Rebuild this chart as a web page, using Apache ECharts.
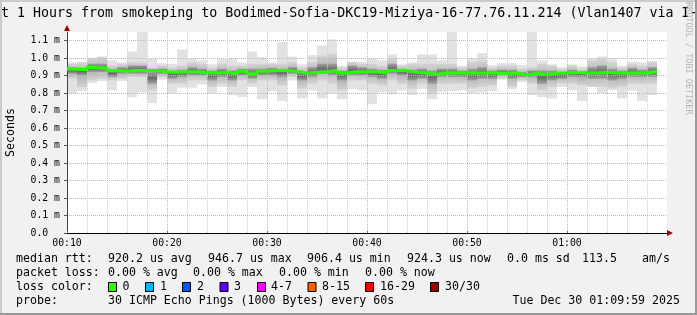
<!DOCTYPE html>
<html>
<head>
<meta charset="utf-8">
<script src="https://cdn.jsdelivr.net/npm/echarts@6/dist/echarts.min.js"></script>
<style>
html,body{margin:0;padding:0;background:#f1f1f1;}
#wrap{position:relative;width:697px;height:315px;overflow:hidden;}
#c{position:absolute;left:0;top:0;width:697px;height:315px;}
.b{position:absolute;}
</style>
</head>
<body>
<div id="wrap">
<div id="c"></div>
<div class="b" style="left:0;top:0;width:697px;height:2px;background:#cbcbcb"></div>
<div class="b" style="left:0;top:0;width:2px;height:315px;background:#cbcbcb"></div>
<div class="b" style="left:0;top:313px;width:697px;height:2px;background:#999"></div>
<div class="b" style="left:695px;top:0;width:2px;height:315px;background:#999"></div>
</div>
<script>
// ---- data (ms) ----
const startMinute = 10;           // first bar = 00:10
const xTickLabels = ['00:10','00:20','00:30','00:40','00:50','01:00'];
const pingMax = [0.976,0.980,1.003,1.010,0.987,0.976,1.039,1.150,0.999,0.972,
  0.968,1.050,0.999,0.987,0.965,0.995,0.999,0.976,1.039,1.006,
  0.976,1.092,1.010,0.965,1.018,1.073,1.108,0.957,0.980,0.980,
  0.999,0.987,1.022,0.965,0.976,1.022,1.022,0.987,1.150,0.957,
  0.999,1.029,0.961,0.972,0.972,0.961,1.150,0.987,0.965,0.949,
  0.965,0.953,0.999,1.010,0.999,0.957,0.980,0.976,0.984];
const pingMin = [0.797,0.812,0.858,0.869,0.816,0.869,0.777,0.804,0.743,0.877,
  0.797,0.831,0.831,0.850,0.797,0.835,0.789,0.777,0.835,0.766,
  0.810,0.755,0.873,0.770,0.816,0.770,0.797,0.766,0.823,0.816,
  0.739,0.804,0.793,0.816,0.789,0.823,0.766,0.808,0.812,0.816,
  0.797,0.804,0.812,0.877,0.823,0.865,0.789,0.777,0.770,0.835,
  0.816,0.755,0.839,0.800,0.819,0.770,0.816,0.755,0.789];
const midHi = [0.968,0.976,0.997,1.006,0.959,0.968,0.978,0.976,0.949,0.959,
  0.949,0.959,0.978,0.968,0.949,0.968,0.959,0.959,0.968,0.968,
  0.968,0.968,0.978,0.949,0.978,1.016,1.026,0.949,0.978,0.968,
  0.968,0.959,0.997,0.959,0.968,0.968,0.968,0.968,0.968,0.949,
  0.978,0.987,0.949,0.959,0.959,0.940,0.949,0.968,0.959,0.940,
  0.959,0.940,0.987,0.997,0.978,0.949,0.968,0.959,0.978];
const midLo = [0.882,0.835,0.873,0.882,0.873,0.882,0.892,0.892,0.816,0.892,
  0.854,0.854,0.873,0.873,0.835,0.854,0.835,0.873,0.854,0.873,
  0.873,0.844,0.892,0.825,0.854,0.873,0.854,0.816,0.873,0.873,
  0.854,0.844,0.873,0.854,0.825,0.854,0.797,0.854,0.854,0.854,
  0.825,0.835,0.844,0.882,0.835,0.873,0.854,0.816,0.835,0.854,
  0.854,0.844,0.835,0.835,0.825,0.835,0.854,0.854,0.854];
const coreHi = [0.949,0.945,0.968,0.968,0.930,0.949,0.959,0.959,0.921,0.940,
  0.930,0.934,0.949,0.940,0.930,0.940,0.930,0.940,0.940,0.940,
  0.945,0.940,0.949,0.921,0.949,0.968,0.968,0.930,0.959,0.949,
  0.940,0.934,0.968,0.940,0.934,0.940,0.930,0.940,0.940,0.930,
  0.940,0.949,0.930,0.934,0.934,0.921,0.930,0.930,0.930,0.921,
  0.934,0.926,0.949,0.959,0.940,0.930,0.945,0.934,0.949];
const coreLo = [0.911,0.902,0.921,0.921,0.892,0.911,0.911,0.911,0.854,0.911,
  0.882,0.892,0.902,0.902,0.873,0.892,0.873,0.902,0.882,0.902,
  0.902,0.892,0.911,0.873,0.892,0.911,0.902,0.873,0.902,0.902,
  0.892,0.882,0.911,0.902,0.873,0.882,0.854,0.892,0.892,0.892,
  0.873,0.882,0.882,0.902,0.882,0.892,0.892,0.854,0.873,0.882,
  0.892,0.892,0.882,0.882,0.873,0.882,0.892,0.892,0.892];
const median = [0.938,0.934,0.947,0.944,0.930,0.926,0.930,0.930,0.930,0.923,
  0.919,0.923,0.923,0.917,0.915,0.919,0.911,0.926,0.911,0.926,
  0.930,0.930,0.926,0.915,0.919,0.923,0.930,0.915,0.923,0.923,
  0.923,0.915,0.930,0.930,0.919,0.915,0.909,0.917,0.915,0.915,
  0.915,0.915,0.915,0.913,0.915,0.906,0.914,0.907,0.915,0.915,
  0.919,0.915,0.915,0.919,0.915,0.915,0.915,0.915,0.924];

const legendRtt = ['920.2 us avg','946.7 us max','906.4 us min','924.3 us now','0.0 ms sd','113.5','am/s'];
const legendLoss = ['0.00 % avg','0.00 % max','0.00 % min','0.00 % now'];
const lossLabels = ['0','1','2','3','4-7','8-15','16-29','30/30'];
const lossColors = ['#26ff00','#00b8ff','#0059ff','#5e00ff','#ff00ff','#ff5e00','#ff0000','#a00000'];
const probeText = '30 ICMP Echo Pings (1000 Bytes) every 60s';
const stampText = 'Tue Dec 30 01:09:59 2025';
const titleText = 'Last 1 Hours from smokeping to Bodimed-Sofia-DKC19-Miziya-16-77.76.11.214 (Vlan1407 via I-N';

// ---- build ----
const smoke = median.map((m,i)=>[startMinute+i, pingMin[i], pingMax[i], midLo[i], midHi[i], coreLo[i], coreHi[i]]);
const medLine = median.map((m,i)=>[startMinute+i, m]);
medLine.push([startMinute+median.length, median[median.length-1]]);

const MONO = '"DejaVu Sans Mono", monospace';
const chart = echarts.init(document.getElementById('c'), null, {renderer:'canvas'});

const midGrad = {type:'linear',x:0,y:0,x2:0,y2:1,colorStops:[{offset:0,color:'#d4d4d4'},{offset:0.5,color:'#b0b0b0'},{offset:1,color:'#d4d4d4'}]};
const coreGrad = {type:'linear',x:0,y:0,x2:0,y2:1,colorStops:[{offset:0,color:'#a0a0a0'},{offset:0.5,color:'#6a6a6a'},{offset:1,color:'#a0a0a0'}]};

function rect(api, t, lo, hi, fill){
  const p0 = api.coord([t, hi]);
  const p1 = api.coord([t+1, lo]);
  return {type:'rect', shape:{x:p0[0], y:p0[1], width:p1[0]-p0[0], height:p1[1]-p0[1]}, style:{fill:fill}};
}

const graphics = [];
graphics.push({type:'text', x:-23, y:14, style:{text:titleText, font:'13.3px '+MONO, fill:'#000', verticalAlign:'middle'}});
graphics.push({type:'text', x:688, y:2, rotation:-Math.PI/2, style:{text:'RRDTOOL / TOBI OETIKER', font:'8.5px '+MONO, fill:'#b4b4b4', verticalAlign:'middle', align:'left'}});
graphics.push({type:'text', x:11, y:132.5, rotation:Math.PI/2, style:{text:'Seconds', font:'11.6px '+MONO, fill:'#000', align:'center', verticalAlign:'middle'}});
const LF = '11.6px '+MONO;
function lt(x,y,s,align){ graphics.push({type:'text', x:x, y:y, style:{text:s, font:LF, fill:'#000', verticalAlign:'middle', align:align||'left'}}); }
lt(16,259,'median rtt:');
[108,208,307,407,507,582,642].forEach((x,i)=>lt(x,259,legendRtt[i]));
lt(16,273,'packet loss:');
[108,193,279,365].forEach((x,i)=>lt(x,273,legendLoss[i]));
lt(16,287,'loss color:');
const swX=[108,145,182,219.5,257,307.5,365,430];
const lbX=[122.5,160,197,234,271,322,380,445];
lossLabels.forEach((s,i)=>{
  graphics.push({type:'rect', shape:{x:swX[i]+0.5,y:282.5,width:8,height:9}, style:{fill:lossColors[i], stroke:'#000', lineWidth:1}});
  lt(lbX[i],287,s);
});
lt(16,301,'probe:');
lt(108,301,probeText);
lt(680,301,stampText,'right');

chart.setOption({
  animation:false,
  backgroundColor:'transparent',
  grid:{left:67,right:30,top:32,bottom:82,show:true,backgroundColor:'#ffffff',borderWidth:0},
  xAxis:{type:'value',min:10,max:70,interval:10,z:3,
    axisLine:{show:true,onZero:false,lineStyle:{color:'#000',width:1}},
    axisTick:{show:true,inside:true,length:2,lineStyle:{color:'#d06060'}},
    minorTick:{show:false,splitNumber:5},
    axisLabel:{margin:5,fontFamily:'DejaVu Sans Mono',fontSize:9.8,color:'#000',
      formatter:(v)=>{const i=Math.round((v-10)/10); return (Math.abs((v-10)/10-i)<1e-6&&xTickLabels[i])?xTickLabels[i]:'';},showMaxLabel:false},
    splitLine:{show:true,showMinLine:false,showMaxLine:false,lineStyle:{color:'#f0a0a0',type:[1,1],width:1}},
    minorSplitLine:{show:true,lineStyle:{color:'#cfcfcf',type:[1,1],width:1}}
  },
  yAxis:{type:'value',min:0,max:1.15,interval:0.1,z:3,
    axisLine:{show:true,lineStyle:{color:'#5a3a3a',width:1}},
    axisTick:{show:true,length:3,lineStyle:{color:'#555'}},
    axisLabel:{margin:7,fontFamily:'DejaVu Sans Mono',fontSize:9.8,color:'#000',showMaxLabel:false,
      formatter:(v)=>{ if(Math.abs(v)<1e-9) return '0.0  '; const r=Math.round(v*10); if(Math.abs(v*10-r)>1e-6) return ''; return (r/10).toFixed(1)+' m';}},
    splitLine:{show:true,showMinLine:false,showMaxLine:false,lineStyle:{color:'#f0a0a0',type:[1,1],width:1}}
  },
  series:[
    {type:'custom', z:2, clip:true, data:smoke,
     renderItem:(params, api)=>{
       const t=api.value(0);
       return {type:'group', children:[
         rect(api,t,api.value(1),api.value(2),'#e2e2e2'),
         rect(api,t,api.value(3),api.value(4),midGrad),
         rect(api,t,api.value(5),api.value(6),coreGrad)
       ]};
     }},
    {type:'line', z:4, step:'end', symbol:'none', data:medLine, lineStyle:{color:'#26ff00',width:3}, silent:true}
  ],
  graphic:graphics
});

// axis arrows (dark red), positioned via the chart's own scales
const pEnd = chart.convertToPixel({gridIndex:0},[70,0]);
const pTop = chart.convertToPixel({gridIndex:0},[10,1.15]);
chart.setOption({graphic: graphics.concat([
  {type:'polygon', shape:{points:[[pEnd[0],pEnd[1]-3],[pEnd[0]+6,pEnd[1]],[pEnd[0],pEnd[1]+3]]}, style:{fill:'#a00000'}, z:10},
  {type:'polygon', shape:{points:[[pTop[0]-3,pTop[1]-1],[pTop[0],pTop[1]-7],[pTop[0]+3,pTop[1]-1]]}, style:{fill:'#a00000'}, z:10}
])});
</script>
</body>
</html>
